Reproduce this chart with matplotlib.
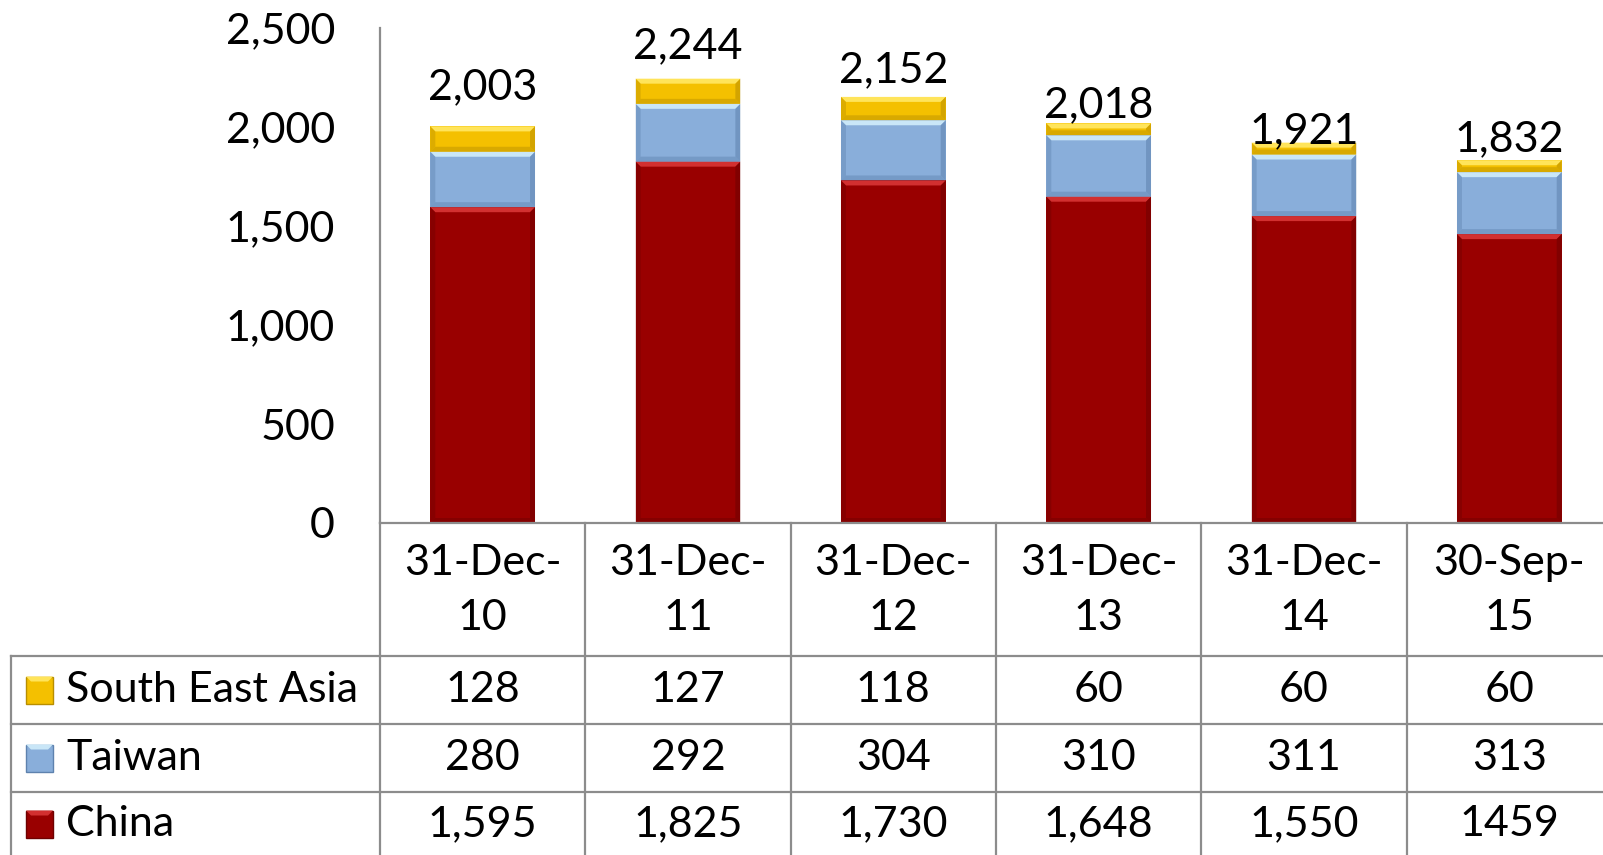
import matplotlib
matplotlib.use("Agg")
import matplotlib.pyplot as plt
from matplotlib.patches import Polygon, Rectangle
import numpy as np

plt.rcParams['font.family'] = ['Lato', 'DejaVu Sans']

# ---- data ----
cat_line1 = ["31-Dec-", "31-Dec-", "31-Dec-", "31-Dec-", "31-Dec-", "30-Sep-"]
cat_line2 = ["10", "11", "12", "13", "14", "15"]
china = [1595, 1825, 1730, 1648, 1550, 1459]
taiwan = [280, 292, 304, 310, 311, 313]
sea = [128, 127, 118, 60, 60, 60]
china_txt = ["1,595", "1,825", "1,730", "1,648", "1,550", "1459"]
totals = [2003, 2244, 2152, 2018, 1921, 1832]
series_names = ["South East Asia", "Taiwan", "China"]
yticks = [0, 500, 1000, 1500, 2000, 2500]

# ---- style ----
label_offsets_px = [39, 32, 27, 18, 11, 21]
colors = {
    "China": ("#990000", "#D23030", "#6E0000"),
    "Taiwan": ("#89AEDA", "#C9E6F7", "#5E82AE"),
    "South East Asia": ("#F4C000", "#FFE45A", "#B88E00"),
}
FS = 31
W, H = 1603, 855
fig = plt.figure(figsize=(W / 100, H / 100), dpi=100)

ax_left, ax_right = 380, 1612
ax_top, ax_bot = 28, 523
ax = fig.add_axes([ax_left / W, 1 - ax_bot / H, (ax_right - ax_left) / W, (ax_bot - ax_top) / H])
n = len(china)
x = np.arange(n)
ax.set_xlim(-0.5, n - 0.5)
ax.set_ylim(0, 2500)
bw = 0.51

bottoms = np.zeros(n)
stack = [("China", china), ("Taiwan", taiwan), ("South East Asia", sea)]

# pixel -> data conversion for bevels
ppx = (ax_right - ax_left) / n       # px per x unit
ppy = (ax_bot - ax_top) / 2500.0     # px per y unit
bev = 5.0
bdx, bdy = bev / ppx, bev / ppy

for name, vals in stack:
    base, light, dark = colors[name]
    vals = np.array(vals, dtype=float)
    ax.bar(x, vals, bw, bottom=bottoms, color=base, edgecolor="none", zorder=2)
    for i in range(n):
        x0, x1 = x[i] - bw / 2, x[i] + bw / 2
        y0, y1 = bottoms[i], bottoms[i] + vals[i]
        # top bevel (light)
        ax.add_patch(Polygon([[x0, y1], [x1, y1], [x1 - bdx, y1 - bdy], [x0 + bdx, y1 - bdy]],
                             closed=True, color=light, lw=0, zorder=3))
        # bottom bevel (dark)
        ax.add_patch(Polygon([[x0, y0], [x1, y0], [x1 - bdx, y0 + bdy], [x0 + bdx, y0 + bdy]],
                             closed=True, color=dark, lw=0, zorder=3, alpha=0.45))
        # side bevels
        ax.add_patch(Polygon([[x0, y0], [x0, y1], [x0 + bdx, y1 - bdy], [x0 + bdx, y0 + bdy]],
                             closed=True, color=dark, lw=0, zorder=3, alpha=0.4))
        ax.add_patch(Polygon([[x1, y0], [x1, y1], [x1 - bdx, y1 - bdy], [x1 - bdx, y0 + bdy]],
                             closed=True, color=dark, lw=0, zorder=3, alpha=0.55))
    bottoms = bottoms + vals

for i, t in enumerate(totals):
    ax.annotate(f"{t:,}", (x[i], bottoms[i]), xytext=(0, label_offsets_px[i] * 0.72),
                textcoords="offset points", ha="center", va="center", fontsize=FS,
                color="black", zorder=5)

ax.set_yticks(yticks)
ax.set_yticklabels([f"{v:,}" for v in yticks], fontsize=FS)
ax.tick_params(axis="y", length=0, pad=45 * 0.72)
ax.set_xticks([])
for s in ["top", "right", "bottom"]:
    ax.spines[s].set_visible(False)
ax.spines["left"].set_color("#8C8C8C")
ax.spines["left"].set_linewidth(1.6)
ax.patch.set_alpha(0)

# ---- data table (overlay in pixel coordinates) ----
tax = fig.add_axes([0, 0, 1, 1])
tax.set_xlim(0, W)
tax.set_ylim(H, 0)
tax.axis("off")
tax.patch.set_alpha(0)

col_px = [ax.transData.transform((xi, 0))[0] for xi in x]
bnd_px = [ax.transData.transform((xi + 0.5, 0))[0] for xi in x]
lc, lw = "#8C8C8C", 1.6
row_y = [523, 656, 724, 792, 855]
tab_left = 11

# horizontal lines
tax.plot([ax_left, W], [row_y[0], row_y[0]], color=lc, lw=lw)
for yy in row_y[1:4]:
    tax.plot([tab_left, W], [yy, yy], color=lc, lw=lw)
# vertical lines
tax.plot([ax_left, ax_left], [row_y[0], H], color=lc, lw=lw)
tax.plot([tab_left, tab_left], [row_y[1], H], color=lc, lw=lw)
for bx in bnd_px[:-1]:
    tax.plot([bx, bx], [row_y[0], H], color=lc, lw=lw)

# header
for i in range(n):
    tax.text(col_px[i], 563, cat_line1[i], ha="center", va="center", fontsize=FS)
    tax.text(col_px[i], 618, cat_line2[i], ha="center", va="center", fontsize=FS)

row_texts = [
    [str(v) for v in sea],
    [str(v) for v in taiwan],
    china_txt,
]
row_centers = [690, 758, 824]
for r, name in enumerate(series_names):
    yc = row_centers[r]
    base, light, dark = colors[name]
    sq = 27
    tax.add_patch(Rectangle((26, yc - sq / 2), sq, sq, facecolor=base, edgecolor=dark, lw=1))
    tax.add_patch(Polygon([[26, yc - sq / 2], [26 + sq, yc - sq / 2], [26 + sq - 5, yc - sq / 2 + 5],
                           [26 + 5, yc - sq / 2 + 5]], closed=True, color=light, lw=0))
    tax.text(66, yc, name, ha="left", va="center", fontsize=FS)
    for i in range(n):
        tax.text(col_px[i], yc, row_texts[r][i], ha="center", va="center", fontsize=FS)

fig.savefig("out.png", dpi=100)
